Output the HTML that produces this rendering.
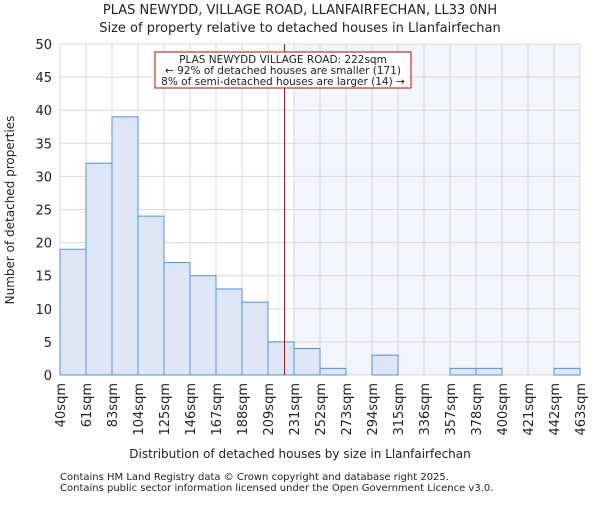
<!DOCTYPE html>
<html><head><meta charset="utf-8"><style>
body{margin:0;background:#fff;font-family:"Liberation Sans","DejaVu Sans",sans-serif}
text{font-family:"DejaVu Sans","Liberation Sans",sans-serif;fill:#222}
</style></head><body>
<svg id="chart" width="600" height="500">
<text x="300" y="14" font-size="13" text-anchor="middle">PLAS NEWYDD, VILLAGE ROAD, LLANFAIRFECHAN, LL33 0NH</text>
<text x="300" y="32" font-size="13" text-anchor="middle">Size of property relative to detached houses in Llanfairfechan</text>
<text x="14" y="210" font-size="12" text-anchor="middle" transform="rotate(-90 14 210)">Number of detached properties</text>
<text x="300" y="458" font-size="12" text-anchor="middle">Distribution of detached houses by size in Llanfairfechan</text>
<text x="60" y="480" font-size="10" fill="#444">Contains HM Land Registry data © Crown copyright and database right 2025.</text>
<text x="60" y="491" font-size="10" fill="#444">Contains public sector information licensed under the Open Government Licence v3.0.</text>
<g id="plot"></g>
</svg>
<script>
const binLabels=["40sqm","61sqm","83sqm","104sqm","125sqm","146sqm","167sqm","188sqm","209sqm","231sqm","252sqm","273sqm","294sqm","315sqm","336sqm","357sqm","378sqm","400sqm","421sqm","442sqm","463sqm"];
const binEdges=[40,61,83,104,125,146,167,188,209,231,252,273,294,315,336,357,378,400,421,442,463];
const counts=[19,32,39,24,17,15,13,11,5,4,1,0,3,0,0,1,1,0,0,1];
const yTicks=[0,5,10,15,20,25,30,35,40,45,50];
const propertySize=222;
const X0=60,X1=580,Y0=375,Y1=44;
const NS="http://www.w3.org/2000/svg";
const g=document.getElementById('plot');
const nb=counts.length;
function xIdx(i){return X0+(X1-X0)*i/nb;}
function xVal(v){for(let i=0;i<binEdges.length-1;i++){if(v<=binEdges[i+1])return xIdx(i)+(xIdx(i+1)-xIdx(i))*(v-binEdges[i])/(binEdges[i+1]-binEdges[i]);}return X1;}
function y(v){return Y0-(Y0-Y1)*v/50;}
function mk(t,a,p){const e=document.createElementNS(NS,t);for(const k in a)e.setAttribute(k,a[k]);(p||g).appendChild(e);return e;}
let si=binEdges.findIndex(e=>e>propertySize);
let sh=mk('rect',{x:xIdx(si),y:Y1,width:X1-xIdx(si),height:Y0-Y1,fill:'#f2f5fc'});


yTicks.forEach(t=>{let l=mk('line',{x1:X0,x2:X1,y1:y(t),y2:y(t),stroke:'#d8d8d8'});


let tx=mk('text',{x:X0-8,y:y(t)+5,'font-size':13,'text-anchor':'end'});tx.textContent=t;

});
binLabels.forEach((lb,i)=>{const xx=xIdx(i);let l=mk('line',{x1:xx,x2:xx,y1:Y1,y2:Y0,stroke:'#d8d8d8'});


let tx=mk('text',{x:xx+5,y:Y0+8,'font-size':13,'text-anchor':'end',transform:`rotate(-90 ${xx+5} ${Y0+8})`});tx.textContent=lb;

});
counts.forEach((c,i)=>{const r=mk('rect',{x:xIdx(i),y:y(c),width:xIdx(i+1)-xIdx(i),height:Y0-y(c),fill:'#dce6f5',stroke:'#5b8fd6','stroke-width':1});

});
const rx=Math.round(xVal(propertySize))+1.5;
let rl=mk('line',{x1:rx,x2:rx,y1:Y1,y2:Y0,stroke:'#dd0000','stroke-width':1});


let box=mk('rect',{x:155,y:52,width:256,height:36,fill:'#fff',stroke:'#cc0000'});


["PLAS NEWYDD VILLAGE ROAD: 222sqm","← 92% of detached houses are smaller (171)","8% of semi-detached houses are larger (14) →"].forEach((s,i)=>{let t=mk('text',{x:283,y:63+i*11,'font-size':10.5,'text-anchor':'middle'});t.textContent=s;

});
</script>
</body></html>
